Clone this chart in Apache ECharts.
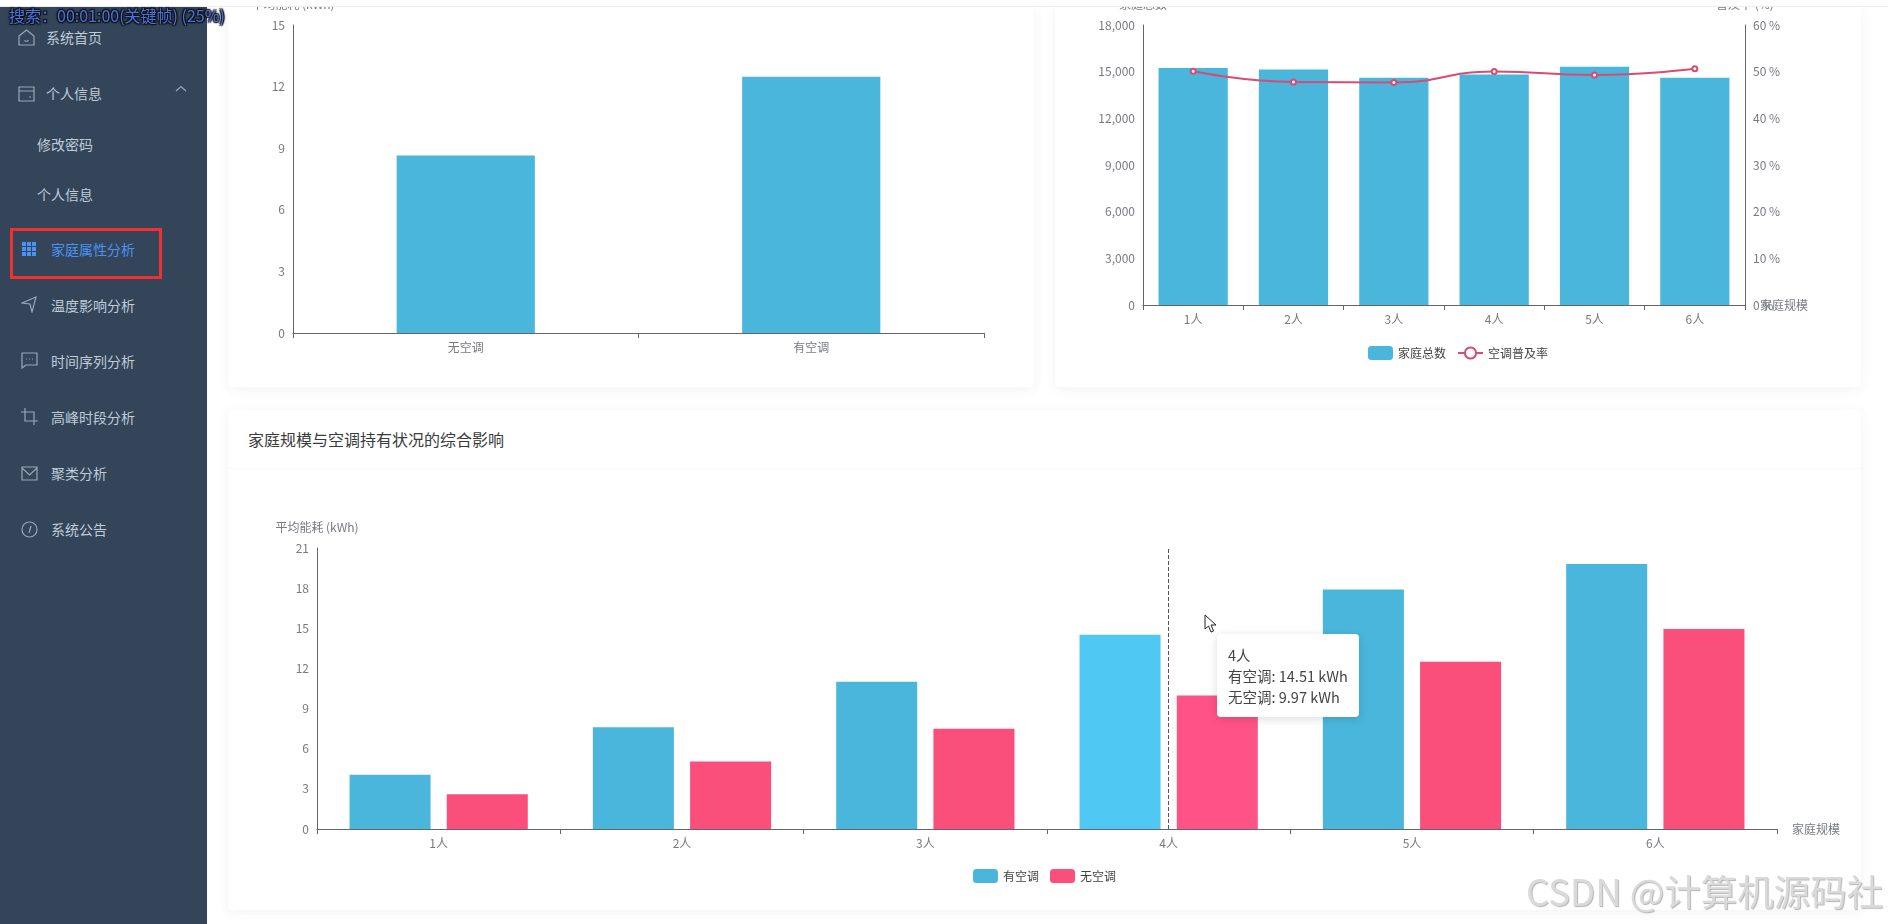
<!DOCTYPE html>
<html>
<head>
    <meta charset="UTF-8">
    <title>家庭属性分析</title>
    <script src="https://cdn.jsdelivr.net/npm/echarts@6/dist/echarts.min.js"></script>
    <style>
        html, body {
            margin: 0;
            padding: 0;
            width: 1888px;
            height: 924px;
            overflow: hidden;
            background: #fff;
            font-family: "Noto Sans CJK SC", sans-serif;
        }

        .topbar {
            position: absolute;
            left: 0;
            top: 0;
            width: 1888px;
            height: 6px;
            background: #fff;
            border-bottom: 1px solid #ebedf0;
            z-index: 5;
        }

        .sidebar {
            position: absolute;
            left: 0;
            top: 7px;
            width: 207px;
            height: 917px;
            background: #344559;
            z-index: 6;
        }

        .nav {
            position: absolute;
            font-size: 14px;
            line-height: 20px;
            color: #bfcbd9;
            white-space: nowrap;
            z-index: 7;
        }

        .nav.active {
            color: #4a93f5;
        }

        .icon {
            position: absolute;
            left: 18px;
            width: 17px;
            height: 17px;
            fill: none;
            stroke: #9aa7b6;
            stroke-width: 1.2;
            z-index: 7;
        }

        .redbox {
            position: absolute;
            left: 10px;
            top: 228px;
            width: 146px;
            height: 45px;
            border: 3px solid #f03030;
            z-index: 7;
        }

        .card {
            position: absolute;
            background: #fff;
            box-shadow: 0 2px 12px rgba(60, 70, 120, 0.07);
            border-radius: 4px;
        }

        .chart {
            position: absolute;
        }

        .cardTitle {
            position: absolute;
            left: 248px;
            top: 428px;
            font-size: 16px;
            line-height: 22px;
            color: #3a3b3d;
        }

        .cardLine {
            position: absolute;
            left: 228px;
            top: 468px;
            width: 1633px;
            height: 1px;
            background: #f8f9fb;
        }

        .search {
            position: absolute;
            left: 9px;
            top: 3px;
            font-size: 16px;
            line-height: 24px;
            color: #4a72e0;
            white-space: nowrap;
            text-shadow: -1px -1px 1px #111, 1px -1px 1px #111, -1px 1px 1px #111, 1px 1px 1px #111, 0 0 3px #111;
            z-index: 9;
        }

        .watermark {
            position: absolute;
            left: 1526px;
            top: 866px;
            font-size: 36.5px;
            line-height: 50px;
            color: #dadada;
            white-space: nowrap;
            text-shadow: 1px 1px 1px #b5b5b5;
            z-index: 9;
        }

        .cursor {
            position: absolute;
            left: 1204px;
            top: 614px;
            z-index: 9;
        }
    </style>
</head>
<body>
<div class="topbar"></div>
<div class="sidebar"></div>
<div class="search">搜索：00:01:00(关键帧) (25%)</div>

<svg class="icon" style="top:29px" viewBox="0 0 17 17"><path d="M1 7 L8.5 1 L16 7 V16 H1 Z M6.5 11.5 Q8.5 13 10.5 11.5"/></svg>
<div class="nav" style="left:46px;top:27px">系统首页</div>
<svg class="icon" style="top:85px" viewBox="0 0 17 17"><path d="M1 2 H16 V16 H1 Z M1 6 H16 M11 12 H13"/></svg>
<div class="nav" style="left:46px;top:83px">个人信息</div>
<svg class="icon" style="left:175px;top:85px;width:12px;height:8px" viewBox="0 0 12 8"><path d="M1 6 L6 1.5 L11 6"/></svg>
<div class="nav" style="left:37px;top:134px">修改密码</div>
<div class="nav" style="left:37px;top:184px">个人信息</div>

<div class="redbox"></div>
<svg class="icon" style="left:22px;top:242px;width:14px;height:14px;stroke:none;fill:#4a93f5" viewBox="0 0 14 14"><path d="M0 0h4v4H0zM5 0h4v4H5zM10 0h4v4h-4zM0 5h4v4H0zM5 5h4v4H5zM10 5h4v4h-4zM0 10h4v4H0zM5 10h4v4H5zM10 10h4v4h-4z"/></svg>
<div class="nav active" style="left:51px;top:239px">家庭属性分析</div>
<svg class="icon" style="left:21px;top:296px" viewBox="0 0 17 17"><path d="M1 7 L15 1 L11 16 L9 8 Z"/></svg>
<div class="nav" style="left:51px;top:295px">温度影响分析</div>
<svg class="icon" style="left:21px;top:352px" viewBox="0 0 17 17"><path d="M1 1 H16 V13 H5 L1 16 Z M5 7 H6 M8 7 H9 M11 7 H12"/></svg>
<div class="nav" style="left:51px;top:351px">时间序列分析</div>
<svg class="icon" style="left:21px;top:408px" viewBox="0 0 17 17"><path d="M4 0 V13 H17 M0 4 H13 V17"/></svg>
<div class="nav" style="left:51px;top:407px">高峰时段分析</div>
<svg class="icon" style="left:21px;top:465px" viewBox="0 0 17 17"><path d="M1 2 H16 V15 H1 Z M1 3 L8.5 10 L16 3"/></svg>
<div class="nav" style="left:51px;top:463px">聚类分析</div>
<svg class="icon" style="left:21px;top:521px" viewBox="0 0 17 17"><circle cx="8.5" cy="8.5" r="7.5"/><path d="M8 12 L10 5"/></svg>
<div class="nav" style="left:51px;top:519px">系统公告</div>

<div class="card" style="left:228px;top:7px;width:806px;height:380px"></div>
<div class="card" style="left:1055px;top:7px;width:806px;height:380px"></div>
<div class="card" style="left:228px;top:410px;width:1633px;height:500px"></div>
<div class="cardLine"></div>
<div class="cardTitle">家庭规模与空调持有状况的综合影响</div>

<div id="acChart" class="chart" style="left:228px;top:0;width:806px;height:386px"></div>
<div id="sizeChart" class="chart" style="left:1055px;top:0;width:806px;height:386px"></div>
<div id="mixChart" class="chart" style="left:228px;top:469px;width:1633px;height:440px"></div>

<svg class="cursor" width="14" height="20" viewBox="0 0 14 20"><path d="M1 1 V15 L4.5 12 L7 18 L9.5 17 L7 11 H12 Z" fill="#fff" stroke="#222" stroke-width="1"/></svg>
<div class="watermark">CSDN @计算机源码社</div>

<script>
    var acCategories = ['无空调', '有空调'];
    var acEnergy = [8.65, 12.48];

    var sizeCategories = ['1人', '2人', '3人', '4人', '5人', '6人'];
    var householdCounts = [15230, 15140, 14610, 14820, 15310, 14610];
    var acRates = [50.1, 47.8, 47.7, 50.05, 49.3, 50.6];

    var withAc = [4.05, 7.6, 11.0, 14.51, 17.9, 19.8];
    var withoutAc = [2.6, 5.05, 7.5, 9.97, 12.5, 14.95];

    var blue = '#4ab6dc';
    var pink = '#f94f7a';
    var labelColor = '#777a80';
    var lineColor = '#666666';
    var fontName = '"Noto Sans CJK SC", sans-serif';

    function categoryAxis(data, name) {
        return {
            type: 'category',
            data: data,
            name: name,
            nameMoveOverlap: false,
            nameTextStyle: {color: labelColor, fontSize: 12, fontFamily: fontName},
            axisLine: {show: true, lineStyle: {color: lineColor}},
            axisTick: {show: true, lineStyle: {color: lineColor}},
            axisLabel: {color: labelColor, fontSize: 12, fontFamily: fontName},
            splitLine: {show: false}
        };
    }

    function valueAxis(name, max, interval, formatter) {
        return {
            type: 'value',
            name: name,
            min: 0,
            max: max,
            interval: interval,
            nameMoveOverlap: false,
            nameTextStyle: {color: labelColor, fontSize: 12, fontFamily: fontName},
            axisLine: {show: true, lineStyle: {color: lineColor}},
            axisTick: {show: false},
            axisLabel: {color: labelColor, fontSize: 12, fontFamily: fontName, formatter: formatter},
            splitLine: {show: false}
        };
    }

    function drawAcChart() {
        var myChart = echarts.init(document.getElementById('acChart'));
        myChart.setOption({
            animation: false,
            grid: {left: 65, right: 50, top: 25, bottom: 53, outerBoundsMode: 'none'},
            xAxis: categoryAxis(acCategories),
            yAxis: valueAxis('平均能耗 (kWh)', 15, 3),
            series: [{
                type: 'bar',
                data: acEnergy,
                barWidth: '40%',
                itemStyle: {color: blue}
            }]
        });
    }

    function drawSizeChart() {
        var myChart = echarts.init(document.getElementById('sizeChart'));
        myChart.setOption({
            animation: false,
            grid: {left: 88, right: 116, top: 25, bottom: 81, outerBoundsMode: 'none'},
            legend: {
                top: 341,
                itemWidth: 25,
                itemHeight: 14,
                itemGap: 11,
                textStyle: {color: '#444', fontSize: 12, fontFamily: fontName},
                data: ['家庭总数', '空调普及率']
            },
            xAxis: categoryAxis(sizeCategories, '家庭规模'),
            yAxis: [
                valueAxis('家庭总数', 18000, 3000),
                valueAxis('普及率 (%)', 60, 10, '{value} %')
            ],
            series: [{
                name: '家庭总数',
                type: 'bar',
                data: householdCounts,
                barWidth: '69%',
                itemStyle: {color: blue}
            }, {
                name: '空调普及率',
                type: 'line',
                yAxisIndex: 1,
                smooth: true,
                data: acRates,
                symbol: 'emptyCircle',
                symbolSize: 5,
                lineStyle: {color: '#d84b72', width: 2},
                itemStyle: {color: '#d84b72'}
            }]
        });
    }

    function drawMixChart() {
        var myChart = echarts.init(document.getElementById('mixChart'));
        myChart.setOption({
            animation: false,
            grid: {left: 89, right: 84, top: 79, bottom: 80, outerBoundsMode: 'none'},
            legend: {
                top: 395,
                itemWidth: 25,
                itemHeight: 14,
                itemGap: 11,
                textStyle: {color: '#444', fontSize: 12, fontFamily: fontName},
                data: ['有空调', '无空调']
            },
            tooltip: {
                trigger: 'axis',
                axisPointer: {type: 'line', lineStyle: {color: '#555', type: 'dashed', width: 1}},
                position: [989, 165],
                backgroundColor: '#fff',
                borderWidth: 0,
                padding: [10, 11],
                extraCssText: 'box-shadow: 0 2px 10px rgba(0,0,0,0.14); border-radius: 4px; line-height: 21px;',
                textStyle: {color: '#444', fontSize: 14.5, fontFamily: fontName},
                formatter: function (params) {
                    var text = params[0].axisValueLabel;
                    for (var i = 0; i < params.length; i++) {
                        text += '<br>' + params[i].seriesName + ': ' + params[i].value + ' kWh';
                    }
                    return text;
                }
            },
            xAxis: categoryAxis(sizeCategories, '家庭规模'),
            yAxis: valueAxis('平均能耗 (kWh)', 21, 3),
            series: [{
                name: '有空调',
                type: 'bar',
                data: withAc,
                barWidth: '33.3%',
                barGap: '20%',
                itemStyle: {color: blue},
                emphasis: {itemStyle: {color: '#4fc8f3'}}
            }, {
                name: '无空调',
                type: 'bar',
                data: withoutAc,
                barWidth: '33.3%',
                itemStyle: {color: pink},
                emphasis: {itemStyle: {color: '#ff5286'}}
            }]
        });
        // 保持4人这一组的提示框显示
        myChart.dispatchAction({type: 'showTip', seriesIndex: 0, dataIndex: 3});
    }

    window.onload = function () {
        drawAcChart();
        drawSizeChart();
        drawMixChart();
    };
</script>
</body>
</html>
